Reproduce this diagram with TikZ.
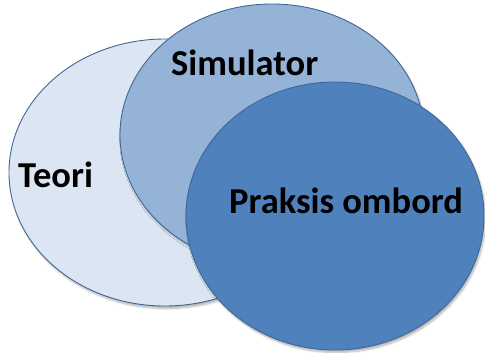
\documentclass[tikz,border=0pt]{standalone}
\usepackage{fontspec}
\setmainfont{Carlito}
\usetikzlibrary{shapes.geometric,shadows.blur}
\definecolor{teorifill}{HTML}{DCE6F2}
\definecolor{simfill}{HTML}{95B3D7}
\definecolor{praksisfill}{HTML}{4F81BD}
\definecolor{edgeblue}{HTML}{3F6899}
\tikzset{
  venn/.style={ellipse, draw=edgeblue, line width=0.9pt, inner sep=0pt,
    blur shadow={shadow xshift=1.5pt, shadow yshift=-2.5pt, shadow blur steps=6, shadow opacity=30}},
  lbl/.style={anchor=base west, inner sep=0pt, font=\fontsize{36.5}{40}\selectfont\bfseries, text=black}
}
\begin{document}
\begin{tikzpicture}[x=1pt,y=-1pt]
\useasboundingbox (0,0) rectangle (485,353);
\node[venn, fill=teorifill, minimum width=312pt, minimum height=267pt] (teori) at (165,172.5) {};
\node[venn, fill=simfill, minimum width=304pt, minimum height=262pt] (sim) at (272,135) {};
\node[venn, fill=praksisfill, minimum width=298pt, minimum height=268pt] (praksis) at (335,216) {};
\node[lbl] (tteori) at (18,187) {Teori};
\node[lbl] (tsim) at (171,76) {Simulator};
\node[lbl] (tpraksis) at (229,213) {Praksis ombord};
\end{tikzpicture}
\end{document}
